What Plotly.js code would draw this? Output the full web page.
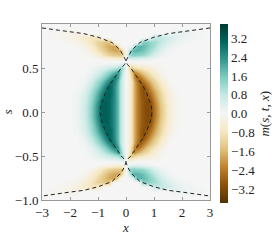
<!DOCTYPE html>
<html>
<head>
<meta charset="utf-8">
<script src="https://cdn.plot.ly/plotly-3.0.1.min.js"></script>
<style>html,body{margin:0;padding:0;background:#fff}#chart{width:280px;height:240px}</style>
</head>
<body>
<div id="chart"></div>
<script>
// x >= 0 columns of the field (the x < 0 half is its mirror with opposite sign)
const xHalf = [0, 0.1, 0.2, 0.3, 0.4, 0.5, 0.6, 0.75, 0.9, 1.0, 1.25, 1.5, 1.75, 2.0, 2.5, 3.0];
// s >= 0 rows (the s < 0 half mirrors these)
const sHalf = [0, 0.05, 0.1, 0.15, 0.2, 0.25, 0.3, 0.35, 0.4, 0.45, 0.5, 0.55, 0.6, 0.65, 0.7, 0.75, 0.8, 0.85, 0.9, 0.95, 1.0];
// m(s,t,x) read for x >= 0, s >= 0
const mQuarter = [
  [0,-0.4,-1.0,-1.7,-2.3,-2.7,-3.0,-3.2,-3.1,-2.5,-1.4,-0.6,-0.15,0,0,0],
  [0,-0.4,-1.0,-1.7,-2.3,-2.7,-3.0,-3.2,-3.1,-2.5,-1.4,-0.6,-0.15,0,0,0],
  [0,-0.4,-1.0,-1.7,-2.3,-2.7,-3.0,-3.2,-3.0,-2.4,-1.3,-0.55,-0.12,0,0,0],
  [0,-0.4,-1.0,-1.7,-2.3,-2.7,-3.0,-3.1,-2.8,-2.2,-1.2,-0.5,-0.1,0,0,0],
  [0,-0.4,-1.0,-1.7,-2.3,-2.8,-3.1,-3.0,-2.5,-2.0,-1.1,-0.45,-0.08,0,0,0],
  [0,-0.4,-1.0,-1.7,-2.3,-2.8,-3.1,-2.8,-2.2,-1.8,-0.95,-0.35,-0.05,0,0,0],
  [0,-0.4,-1.0,-1.7,-2.3,-2.8,-3.1,-2.5,-1.9,-1.5,-0.75,-0.2,0,0,0,0],
  [0,-0.4,-1.0,-1.8,-2.5,-2.9,-2.5,-2.0,-1.5,-1.2,-0.55,-0.1,0,0,0,0],
  [0,-0.45,-1.3,-2.2,-2.7,-2.4,-2.0,-1.5,-1.1,-0.85,-0.3,-0.05,0,0,0,0],
  [0,-0.6,-1.6,-2.3,-1.9,-1.6,-1.3,-1.0,-0.7,-0.5,-0.15,0,0,0,0,0],
  [0,-1.0,-1.4,-1.1,-0.9,-0.8,-0.7,-0.55,-0.4,-0.3,-0.1,0,0,0,0,0],
  [0,-0.5,-0.4,-0.3,-0.25,-0.2,-0.18,-0.15,-0.1,-0.08,0,0,0,0,0,0],
  [0,0.3,0.4,0.4,0.35,0.3,0.25,0.2,0.1,0.05,0,0,0,0,0,0],
  [0,1.2,1.4,1.4,1.35,1.3,1.2,1.0,0.7,0.5,0.15,0.03,0,0,0,0],
  [0,0.6,1.7,1.9,1.9,1.8,1.7,1.4,1.1,0.9,0.4,0.1,0.02,0,0,0],
  [0,0,0.2,1.0,1.8,1.9,1.8,1.6,1.3,1.1,0.6,0.25,0.08,0.02,0,0],
  [0,0,0,0,0,0.4,1.5,1.5,1.3,1.2,0.8,0.45,0.2,0.08,0,0],
  [0,0,0,0,0,0,0,0,0.2,0.7,0.8,0.6,0.35,0.18,0.05,0],
  [0,0,0,0,0,0,0,0,0,0,0,0,0.25,0.2,0.08,0],
  [0,0,0,0,0,0,0,0,0,0,0,0,0,0,0,0],
  [0,0,0,0,0,0,0,0,0,0,0,0,0,0,0,0]
];
// dashed characteristic curves
const curveS  = [0.955,0.935,0.91,0.89,0.85,0.79,0.70,0.65,0.60,0.575,0.54,0.5,0.445,0.37,0.3,0.22,0.14,0.07,0,-0.07,-0.14,-0.22,-0.3,-0.37,-0.445,-0.5,-0.54,-0.575,-0.60,-0.65,-0.70,-0.79,-0.85,-0.89,-0.91,-0.935,-0.955];
const curveAX = [-3,-2.5,-2,-1.5,-1,-0.5,-0.2,-0.1,-0.03,0,0.05,0.17,0.29,0.45,0.6,0.73,0.83,0.9,0.93,0.9,0.83,0.73,0.6,0.45,0.29,0.17,0.05,0,0.03,0.1,0.2,0.5,1,1.5,2,2.5,3];
const curveBX = [3,2.5,2,1.5,1,0.5,0.2,0.1,0.03,0,-0.05,-0.17,-0.29,-0.45,-0.6,-0.73,-0.83,-0.9,-0.93,-0.9,-0.83,-0.73,-0.6,-0.45,-0.29,-0.17,-0.05,0,-0.03,-0.1,-0.2,-0.5,-1,-1.5,-2,-2.5,-3];
const cbTicks = [-3.2,-2.4,-1.6,-0.8,0,0.8,1.6,2.4,3.2];
const cbLabels = ['\u22123.2','\u22122.4','\u22121.6','\u22120.8','0.0','0.8','1.6','2.4','3.2'];
const xTicks = [-3,-2,-1,0,1,2,3];
const xLabels = ['\u22123','\u22122','\u22121','0','1','2','3'];
const sTicks = [-1,-0.5,0,0.5];
const sLabels = ['\u22121.0','\u22120.5','0.0','0.5'];

// assemble full grid using the picture's symmetry
const xFull = xHalf.slice(1).map(v => -v).reverse().concat(xHalf);
const sFull = sHalf.slice(1).map(v => -v).reverse().concat(sHalf);
const rowFull = r => r.slice(1).map(v => -v).reverse().concat(r);
const rowsHalf = mQuarter.map(rowFull);
const zFull = rowsHalf.slice(1).reverse().concat(rowsHalf);

const brbg = [
  [0.0,'#543005'],[0.1,'#8c510a'],[0.2,'#bf812d'],[0.3,'#dfc27d'],[0.4,'#f6e8c3'],
  [0.5,'#f5f5f5'],[0.6,'#c7eae5'],[0.7,'#80cdc1'],[0.8,'#35978f'],[0.9,'#01665e'],[1.0,'#003c30']
];
const font = {family: '"Liberation Serif", "DejaVu Serif", serif', size: 13, color: '#222'};

const data = [
  {type: 'heatmap', x: xFull, y: sFull, z: zFull, zsmooth: 'best',
   zmin: -3.8, zmax: 3.8, colorscale: brbg, showscale: true,
   colorbar: {x: 1.06, xanchor: 'left', xpad: 0, ypad: 0, thickness: 8,
     lenmode: 'pixels', len: 179, y: 0.49, yanchor: 'middle',
     outlinewidth: 0, tickvals: cbTicks, ticktext: cbLabels, ticks: '',
     tickfont: font,
     title: {text: '<i>m</i>(<i>s</i>, <i>t</i>, <i>x</i>)', side: 'right', font: font}}},
  {type: 'scatter', mode: 'lines', x: curveAX, y: curveS, showlegend: false,
   line: {color: '#222', width: 1, dash: '4px,3px'}},
  {type: 'scatter', mode: 'lines', x: curveBX, y: curveS, showlegend: false,
   line: {color: '#222', width: 1, dash: '4px,3px'}}
];
const axisCommon = {showline: true, linecolor: '#999', linewidth: 1, mirror: 'ticks',
  ticks: 'inside', ticklen: 3, tickcolor: '#999', showgrid: false, zeroline: false,
  tickfont: font};
const layout = {
  width: 280, height: 240,
  margin: {l: 42, r: 70, t: 24, b: 40, autoexpand: false},
  paper_bgcolor: '#fff', plot_bgcolor: '#f5f5f5',
  font: font, showlegend: false,
  xaxis: Object.assign({}, axisCommon, {range: [-3, 3], tickvals: xTicks, ticktext: xLabels,
    title: {text: '<i>x</i>', font: font, standoff: 4}}),
  yaxis: Object.assign({}, axisCommon, {range: [-1, 1], tickvals: sTicks, ticktext: sLabels,
    title: {text: '<i>s</i>', font: font, standoff: 14}})
};
Plotly.newPlot('chart', data, layout, {staticPlot: true});
</script>
</body>
</html>
